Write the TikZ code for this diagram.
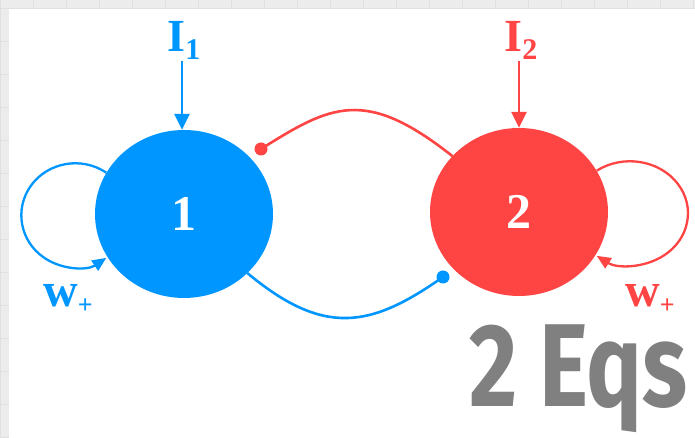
\documentclass[tikz,border=0pt]{standalone}
\usepackage{fontspec}
\setmainfont{Liberation Serif}
\newfontfamily\eqfont{Fira Sans}
\usetikzlibrary{shapes.geometric,arrows.meta}
\definecolor{cblue}{RGB}{0,150,255}
\definecolor{cred}{RGB}{255,68,68}
\definecolor{cgrey}{RGB}{128,128,128}
\definecolor{bggrey}{RGB}{236,236,236}
\definecolor{gridgrey}{RGB}{222,224,226}
\begin{document}
\begin{tikzpicture}[x=1pt,y=1pt,
  neuron/.style={ellipse, minimum width=178pt, minimum height=168pt, inner sep=0pt,
    text=white, font=\fontsize{50}{50}\selectfont\bfseries},
  inlabel/.style={font=\fontsize{46}{46}\selectfont\bfseries, inner sep=0pt},
  wlabel/.style={font=\fontsize{48}{48}\selectfont\bfseries, inner sep=0pt},
  inarrow/.style={line width=2.6pt, -{Triangle[length=16pt,width=15pt]}},
  loopline/.style={line width=2.3pt, -{Triangle[length=14pt,width=12pt]}},
  linkline/.style={line width=2.6pt}
]
\useasboundingbox (0,0) rectangle (695,438);
\fill[bggrey] (0,0) rectangle (695,438);
\draw[gridgrey, line width=1pt] (0,0) grid[step=33pt] (695,438);
\fill[white] (9,0) rectangle (695,429);

% links between neurons
\coordinate (d1) at (261,289);
\coordinate (d2) at (443,161);

\node[neuron, fill=cblue] (n1) at (184,224) {1};
\node[neuron, fill=cred] (n2) at (519,226) {2};

\draw[cred, linkline] (n2.140) .. controls (365,351) and (331,333) .. (d1);
\fill[cred] (d1) circle (6.5pt);
\draw[cblue, linkline] (n1.-43) .. controls (324.3,101) and (370.7,110.3) .. (d2);
\fill[cblue] (d2) circle (6.5pt);

% inputs
\node[inlabel, text=cblue] (i1) at (184,398) {I\raisebox{-8pt}{\fontsize{30}{30}\selectfont 1}};
\node[inlabel, text=cred] (i2) at (521,398) {I\raisebox{-8pt}{\fontsize{30}{30}\selectfont 2}};
\draw[cblue, inarrow] (i1.south) ++(-2,-2) coordinate (i1s) -- (i1s |- n1.north);
\draw[cred, inarrow] (i2.south) ++(-2,-2) coordinate (i2s) -- (i2s |- n2.north);

% self loops
\draw[cblue, loopline] (n1.152) arc[start angle=55, end angle=305, x radius=54, y radius=52];
\draw[cred, loopline] (n2.28) arc[start angle=125, end angle=-125, x radius=58, y radius=52];

\node[wlabel, text=cblue] (w1) at (68,139) {w\raisebox{-7pt}{\fontsize{26}{26}\selectfont +}};
\node[wlabel, text=cred] (w2) at (650,139) {w\raisebox{-7pt}{\fontsize{26}{26}\selectfont +}};

% caption
\node[text=cgrey, font=\eqfont\bfseries\fontsize{118}{118}\selectfont, anchor=base west, inner sep=0pt] (eq) at (469,31) {\scalebox{0.79}[1]{2 Eqs}};
\end{tikzpicture}
\end{document}
